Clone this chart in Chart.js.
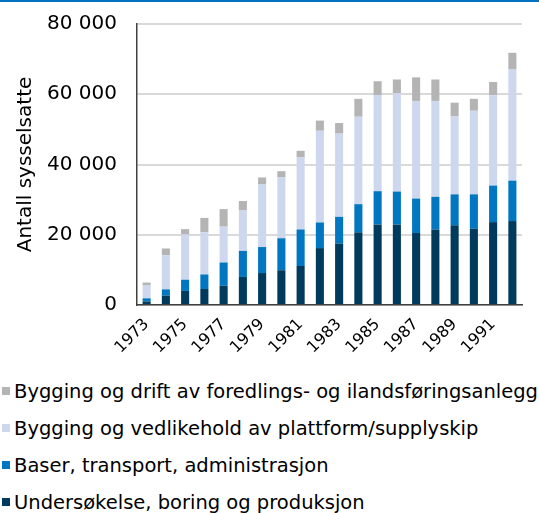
<!DOCTYPE html>
<html>
<head>
<meta charset="utf-8">
<script src="https://cdn.jsdelivr.net/npm/chart.js@4/dist/chart.umd.min.js"></script>
<style>
  html, body { margin: 0; padding: 0; background: #fff; }
  body { width: 539px; height: 513px; position: relative; overflow: hidden; }
  #topline { position: absolute; left: 0; top: 0; width: 539px; height: 2px; background: #0070C0; }
  #wrap { position: absolute; left: 0; top: -8px; width: 539px; height: 368px; }
  #legend { position: absolute; left: 2px; top: 380px; font-family: "DejaVu Sans", sans-serif; font-size: 19.5px; color: #000; }
  #legend div { height: 37px; line-height: 24px; white-space: nowrap; }
  #legend span.box { display: inline-block; width: 8px; height: 8px; margin-right: 4px; vertical-align: 3px; }
</style>
</head>
<body>
<div id="wrap"><canvas id="chart"></canvas></div>
<div id="topline"></div>
<div id="legend"></div>
<script>
// years on the x axis
var years = ['1973', '1974', '1975', '1976', '1977', '1978', '1979', '1980', '1981', '1982',
             '1983', '1984', '1985', '1986', '1987', '1988', '1989', '1990', '1991', '1992'];

// employees per sector
var undersokelse = [1000, 2650, 4000, 4550, 5500, 8000, 9100, 9900, 11100, 16200,
                    17500, 20700, 22900, 22900, 20500, 21500, 22700, 21700, 23600, 23900];
var baser = [900, 1800, 3200, 4150, 6600, 7400, 7400, 9100, 10400, 7300,
             7600, 8000, 9500, 9400, 9800, 9300, 8800, 9800, 10400, 11500];
var plattform = [3800, 9750, 12900, 12000, 10200, 11500, 17800, 17300, 20500, 26100,
                 23700, 24900, 27400, 28000, 27800, 27300, 22300, 23800, 25700, 31800];
var ilandsforing = [700, 1900, 1500, 4100, 5000, 2700, 2000, 1800, 1900, 2900,
                    3000, 5100, 3900, 3900, 6700, 6100, 3800, 3400, 3800, 4600];

var seriesNames = ['Undersøkelse, boring og produksjon', 'Baser, transport, administrasjon',
                   'Bygging og vedlikehold av plattform/supplyskip',
                   'Bygging og drift av foredlings- og ilandsføringsanlegg'];
var seriesColors = ['#003A5D', '#0077C0', '#CDD8EF', '#B4B4B4'];
var seriesData = [undersokelse, baser, plattform, ilandsforing];

var font = "'DejaVu Sans', sans-serif";

var datasets = seriesData.map(function (d, i) {
    return {
        label: seriesNames[i],
        data: d,
        backgroundColor: seriesColors[i],
        borderWidth: 0,
        barPercentage: 0.42,
        categoryPercentage: 1.0
    };
});

var ctx = document.getElementById('chart').getContext('2d');
var chart = new Chart(ctx, {
    type: 'bar',
    data: { labels: years, datasets: datasets },
    options: {
        responsive: true,
        maintainAspectRatio: false,
        animation: false,
        layout: { padding: { top: 4, right: 17, left: 0, bottom: 0 } },
        plugins: {
            legend: { display: false },
            tooltip: { enabled: false }
        },
        scales: {
            x: {
                stacked: true,
                grid: { display: false, drawTicks: false },
                border: { color: '#404040', width: 1.5 },
                ticks: {
                    autoSkip: false,
                    maxRotation: 45,
                    minRotation: 45,
                    padding: 10,
                    color: '#000',
                    font: { family: font, size: 16 },
                    callback: function (v, i) { return i % 2 === 0 ? years[i] : ''; }
                },
                afterFit: function (scale) { scale.height = 55; }
            },
            y: {
                stacked: true,
                min: 0,
                max: 80000,
                grid: { color: '#D9D9D9', lineWidth: 2, drawTicks: false },
                border: { color: '#404040', width: 1.5 },
                ticks: {
                    stepSize: 20000,
                    padding: 20,
                    color: '#000',
                    font: { family: font, size: 20 },
                    callback: function (v) { return v === 0 ? '0' : (v / 1000) + ' 000'; }
                },
                title: {
                    display: true,
                    text: 'Antall sysselsatte',
                    color: '#000',
                    font: { family: font, size: 20 },
                    padding: { top: 14, bottom: 0 }
                },
                afterFit: function (scale) { scale.width = 137; }
            }
        }
    }
});

// legend, top entry is the top of the stack
var legend = document.getElementById('legend');
for (var i = seriesNames.length - 1; i >= 0; i--) {
    var row = document.createElement('div');
    var box = document.createElement('span');
    box.className = 'box';
    box.style.background = seriesColors[i];
    row.appendChild(box);
    row.appendChild(document.createTextNode(seriesNames[i]));
    legend.appendChild(row);
}
</script>
</body>
</html>
